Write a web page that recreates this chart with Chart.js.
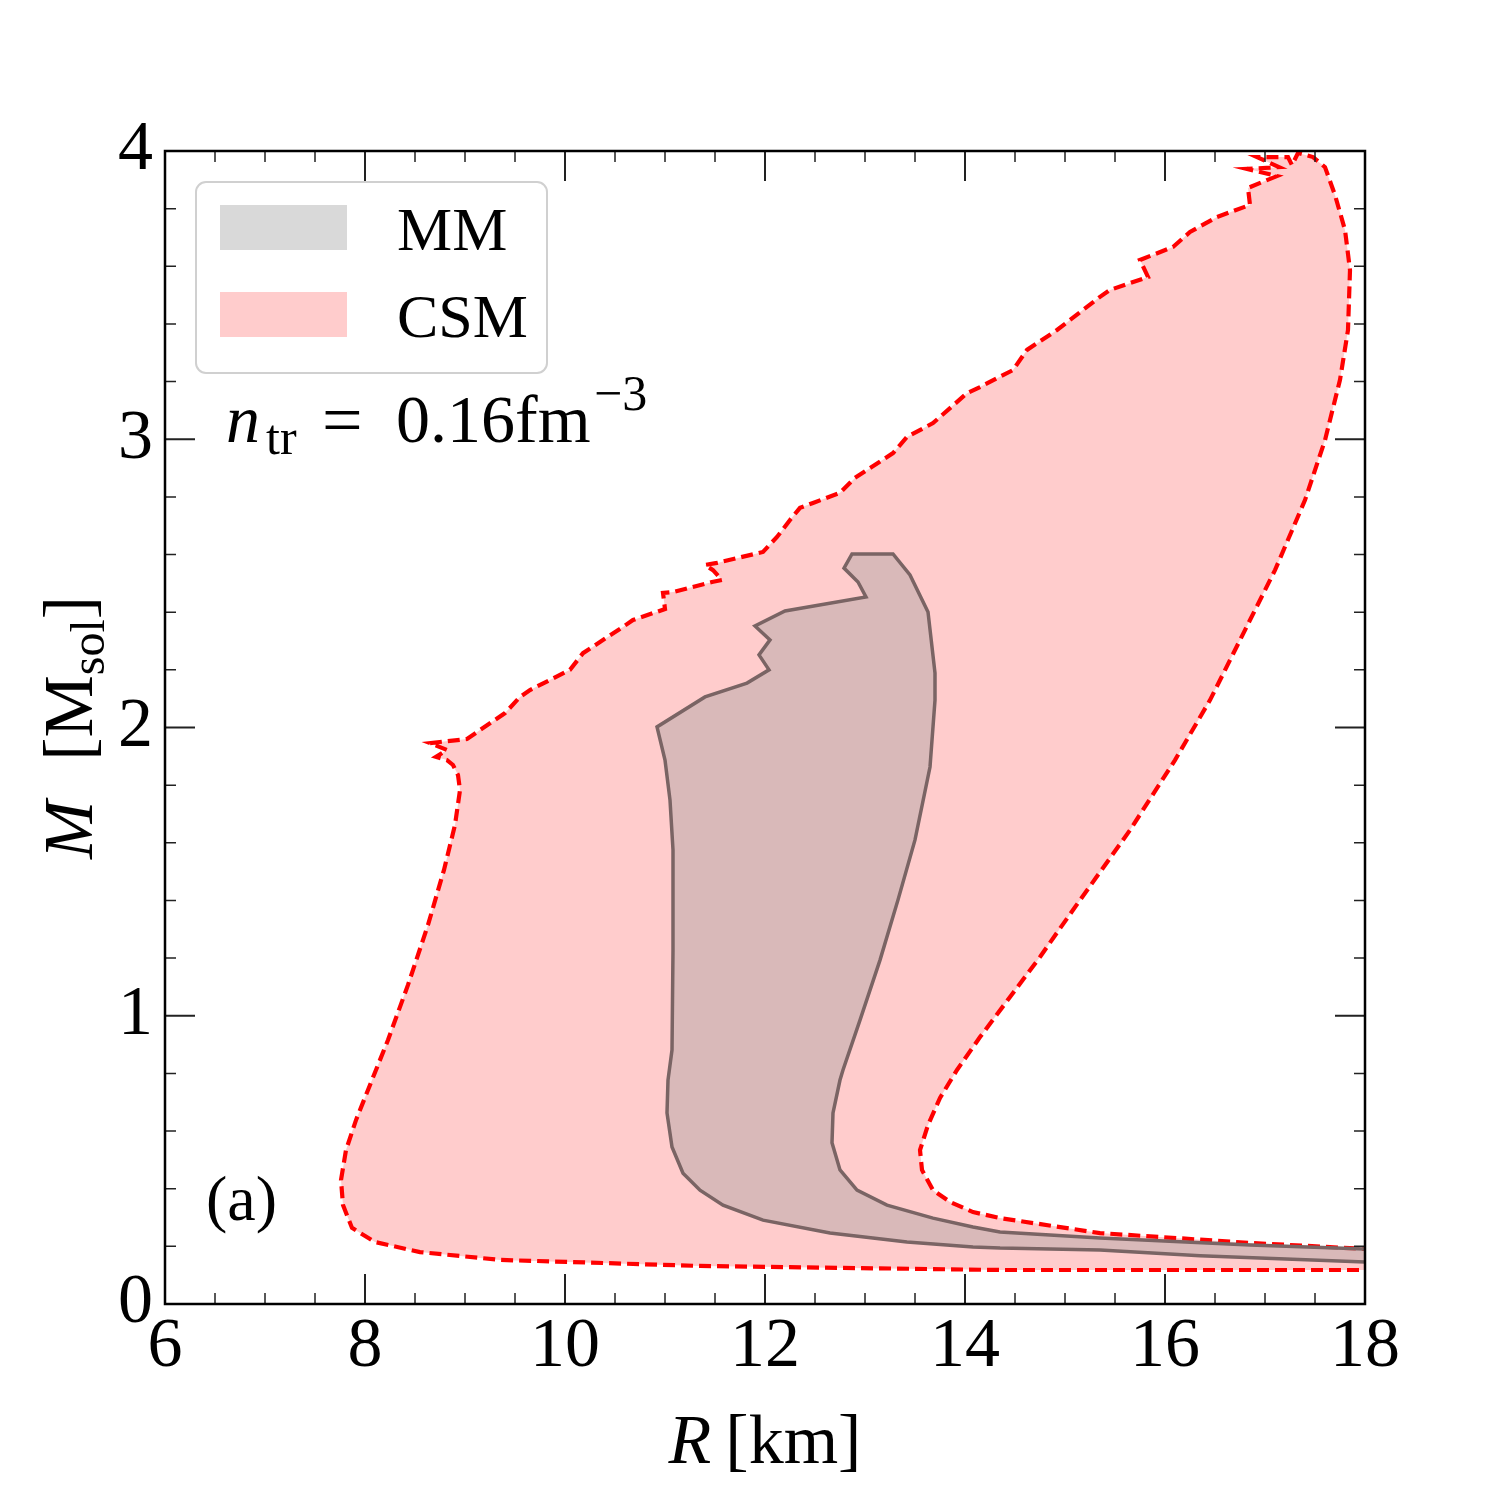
<!DOCTYPE html>
<html>
<head>
<meta charset="utf-8">
<script src="https://cdn.jsdelivr.net/npm/chart.js@4.4.1/dist/chart.umd.min.js"></script>
<style>
  body { margin: 0; background: #fff; }
</style>
</head>
<body>
<canvas id="mr" width="1500" height="1500"></canvas>
<script>
// CSM envelope, lower tail first, then up the left side, along the top and back down the right side
const csmR = [18.3, 18.0, 14.35, 11.35, 9.35, 8.55, 8.10, 7.87, 7.78, 7.76, 7.81, 7.91, 8.05, 8.23, 8.43, 8.63, 8.79, 8.90, 8.95, 8.93,
  8.88, 8.82, 8.71, 8.82, 8.65, 9.02, 9.15, 9.40, 9.55, 9.65, 10.05, 10.18, 10.58, 10.68, 11.00, 10.98, 11.08, 11.47, 11.57, 11.48,
  11.40, 11.52, 11.98, 12.12, 12.25, 12.35, 12.48, 12.75, 12.90, 13.28, 13.42, 13.68, 14.02, 14.15, 14.48, 14.62, 14.92, 15.35, 15.45, 15.83,
  15.75, 16.08, 16.25, 16.52, 16.85, 16.83, 17.12, 16.82, 17.14, 16.92, 17.23, 17.27, 17.33, 17.48, 17.60, 17.70, 17.80, 17.85, 17.83, 17.75,
  17.60, 17.40, 17.10, 16.80, 16.45, 16.10, 15.65, 15.08, 14.75, 14.45, 14.15, 13.92, 13.75, 13.63, 13.55, 13.57, 13.68, 13.85, 14.08, 14.35,
  15.35, 16.85, 18.0, 18.3]
const csmM = [0.118, 0.118, 0.118, 0.132, 0.153, 0.180, 0.215, 0.264, 0.343, 0.430, 0.534, 0.638, 0.760, 0.916, 1.107, 1.315, 1.506, 1.662, 1.783, 1.835,
  1.870, 1.887, 1.898, 1.922, 1.946, 1.960, 1.991, 2.050, 2.106, 2.130, 2.200, 2.258, 2.349, 2.373, 2.411, 2.467, 2.470, 2.505, 2.512, 2.546,
  2.564, 2.571, 2.609, 2.661, 2.720, 2.762, 2.779, 2.814, 2.866, 2.952, 3.008, 3.056, 3.160, 3.181, 3.240, 3.310, 3.379, 3.494, 3.518, 3.563,
  3.622, 3.667, 3.719, 3.771, 3.813, 3.872, 3.913, 3.938, 3.944, 3.979, 3.979, 3.951, 3.993, 3.979, 3.944, 3.847, 3.726, 3.587, 3.379, 3.206,
  2.997, 2.789, 2.546, 2.338, 2.095, 1.887, 1.644, 1.367, 1.204, 1.065, 0.926, 0.812, 0.715, 0.621, 0.534, 0.465, 0.395, 0.354, 0.319, 0.298,
  0.246, 0.212, 0.191, 0.187]

// MM band, same direction
const mmR = [18.3, 18.0, 16.35, 15.35, 14.35, 14.08, 13.42, 12.65, 11.98, 11.58, 11.35, 11.18, 11.07, 11.02, 11.03, 11.07, 11.08, 11.08, 11.05, 11.00,
  10.92, 11.40, 11.82, 12.04, 11.94, 12.05, 11.90, 12.20, 13.01, 12.93, 12.79, 12.87, 13.28, 13.45, 13.63, 13.70, 13.70, 13.65, 13.50, 13.33,
  13.15, 12.95, 12.78, 12.75, 12.68, 12.67, 12.75, 12.92, 13.22, 13.68, 14.08, 14.35, 15.35, 16.85, 18.0, 18.3]
const mmM = [0.146, 0.146, 0.167, 0.187, 0.194, 0.198, 0.215, 0.246, 0.291, 0.343, 0.395, 0.454, 0.545, 0.663, 0.777, 0.881, 1.228, 1.575, 1.748, 1.887,
  2.002, 2.106, 2.154, 2.200, 2.252, 2.304, 2.352, 2.404, 2.453, 2.505, 2.553, 2.602, 2.602, 2.529, 2.401, 2.189, 2.095, 1.863, 1.610, 1.402,
  1.193, 0.985, 0.812, 0.777, 0.663, 0.559, 0.465, 0.395, 0.343, 0.298, 0.267, 0.250, 0.229, 0.205, 0.191, 0.188]

const xMajor = [6, 8, 10, 12, 14, 16, 18]
const yMajor = [0, 1, 2, 3, 4]
const seriesNames = ['MM', 'CSM']

const serif = "'Liberation Serif', 'DejaVu Serif', serif"
const mmFill = 'rgba(150,150,150,0.36)'
const csmFill = 'rgba(255,0,0,0.2)'

function pts(rs, ms) {
  return rs.map((r, i) => ({x: r, y: ms[i]}))
}

// inward ticks, frame, legend and the text labels
const decor = {
  id: 'decor',
  afterDatasetsDraw(chart) {
    const {ctx, chartArea: a, scales: {x, y}} = chart
    ctx.save()
    ctx.strokeStyle = '#222'
    for (let i = 0; i <= 24; i++) {
      const v = 6 + i * 0.5
      const px = x.getPixelForValue(v)
      const major = i % 4 == 0
      const len = major ? 30 : 11
      ctx.lineWidth = major ? 2 : 1.5
      ctx.beginPath()
      ctx.moveTo(px, a.bottom); ctx.lineTo(px, a.bottom - len)
      ctx.moveTo(px, a.top); ctx.lineTo(px, a.top + len)
      ctx.stroke()
    }
    for (let i = 0; i <= 20; i++) {
      const py = y.getPixelForValue(i / 5)
      const major = i % 5 == 0
      const len = major ? 30 : 11
      ctx.lineWidth = major ? 2 : 1.5
      ctx.beginPath()
      ctx.moveTo(a.left, py); ctx.lineTo(a.left + len, py)
      ctx.moveTo(a.right, py); ctx.lineTo(a.right - len, py)
      ctx.stroke()
    }
    ctx.strokeStyle = '#000'
    ctx.lineWidth = 2.5
    ctx.strokeRect(a.left, a.top, a.width, a.height)

    // legend box
    const lx = a.left + 31, ly = a.top + 31
    ctx.beginPath()
    ctx.roundRect(lx, ly, 351, 191, 10)
    ctx.fillStyle = 'rgba(255,255,255,0.8)'
    ctx.fill()
    ctx.strokeStyle = '#d0d0d0'
    ctx.lineWidth = 2
    ctx.stroke()
    const fills = ['#d9d9d9', csmFill]
    ctx.font = '62px ' + serif
    ctx.textBaseline = 'alphabetic'
    seriesNames.forEach((name, i) => {
      ctx.fillStyle = fills[i]
      ctx.fillRect(lx + 24, ly + 23 + i * 87, 127, 45)
      ctx.fillStyle = '#000'
      ctx.fillText(name, lx + 201, ly + 68 + i * 87)
    })

    // n_tr annotation
    ctx.fillStyle = '#000'
    ctx.font = 'italic 68px ' + serif
    ctx.fillText('n', 226, 442)
    ctx.font = '50px ' + serif
    ctx.fillText('tr', 266, 454)
    ctx.font = '72px ' + serif
    ctx.fillText('=', 322, 444)
    ctx.font = '68px ' + serif
    ctx.fillText('0.16fm', 396, 442)
    ctx.font = '50px ' + serif
    ctx.fillText('\u22123', 594, 410)

    ctx.font = '64px ' + serif
    ctx.fillText('(a)', 206, 1220)

    // x title
    const cx = (a.left + a.right) / 2
    ctx.font = 'italic 70px ' + serif
    const wR = ctx.measureText('R').width
    ctx.font = '70px ' + serif
    const wK = ctx.measureText('[km]').width
    let sx = cx - (wR + 14 + wK) / 2
    ctx.font = 'italic 70px ' + serif
    ctx.fillText('R', sx, 1463)
    ctx.font = '70px ' + serif
    ctx.fillText('[km]', sx + wR + 14, 1463)

    // y title, rotated
    const cy = (a.top + a.bottom) / 2
    ctx.translate(92, cy)
    ctx.rotate(-Math.PI / 2)
    ctx.font = 'italic 70px ' + serif
    const wM = ctx.measureText('M').width
    ctx.font = '70px ' + serif
    const wB = ctx.measureText('[M').width
    const wC = ctx.measureText(']').width
    ctx.font = '48px ' + serif
    const wS = ctx.measureText('sol').width
    const gap = 40
    let tx = -(wM + gap + wB + wS + wC) / 2
    ctx.font = 'italic 70px ' + serif
    ctx.fillText('M', tx, 0)
    tx += wM + gap
    ctx.font = '70px ' + serif
    ctx.fillText('[M', tx, 0)
    tx += wB
    ctx.font = '48px ' + serif
    ctx.fillText('sol', tx, 12)
    tx += wS
    ctx.font = '70px ' + serif
    ctx.fillText(']', tx, 0)
    ctx.restore()
  }
}

new Chart(document.getElementById('mr'), {
  type: 'scatter',
  data: {
    datasets: [
      {
        label: seriesNames[0],
        data: pts(mmR, mmM),
        showLine: true,
        fill: 'shape',
        backgroundColor: mmFill,
        borderColor: '#7a6464',
        borderWidth: 3.5,
        pointRadius: 0,
        tension: 0,
        clip: 0
      },
      {
        label: seriesNames[1],
        data: pts(csmR, csmM),
        showLine: true,
        fill: 'shape',
        backgroundColor: csmFill,
        borderColor: '#ff0000',
        borderWidth: 4.2,
        borderDash: [12, 6],
        pointRadius: 0,
        tension: 0,
        clip: 0
      }
    ]
  },
  options: {
    responsive: false,
    animation: false,
    devicePixelRatio: 1,
    layout: {padding: {top: 151, right: 135, left: 0, bottom: 0}},
    plugins: {legend: {display: false}, tooltip: {enabled: false}},
    scales: {
      x: {
        type: 'linear', min: 6, max: 18,
        grid: {display: false}, border: {display: false},
        afterBuildTicks: s => { s.ticks = xMajor.map(v => ({value: v})) },
        afterFit: s => { s.height = 196 },
        ticks: {font: {family: serif, size: 70}, color: '#000', padding: -6, maxRotation: 0, autoSkip: false}
      },
      y: {
        type: 'linear', min: 0, max: 4,
        grid: {display: false}, border: {display: false},
        afterBuildTicks: s => { s.ticks = yMajor.map(v => ({value: v})) },
        afterFit: s => { s.width = 165 },
        ticks: {font: {family: serif, size: 70}, color: '#000', padding: 4, autoSkip: false}
      }
    }
  },
  plugins: [decor]
})
</script>
</body>
</html>
